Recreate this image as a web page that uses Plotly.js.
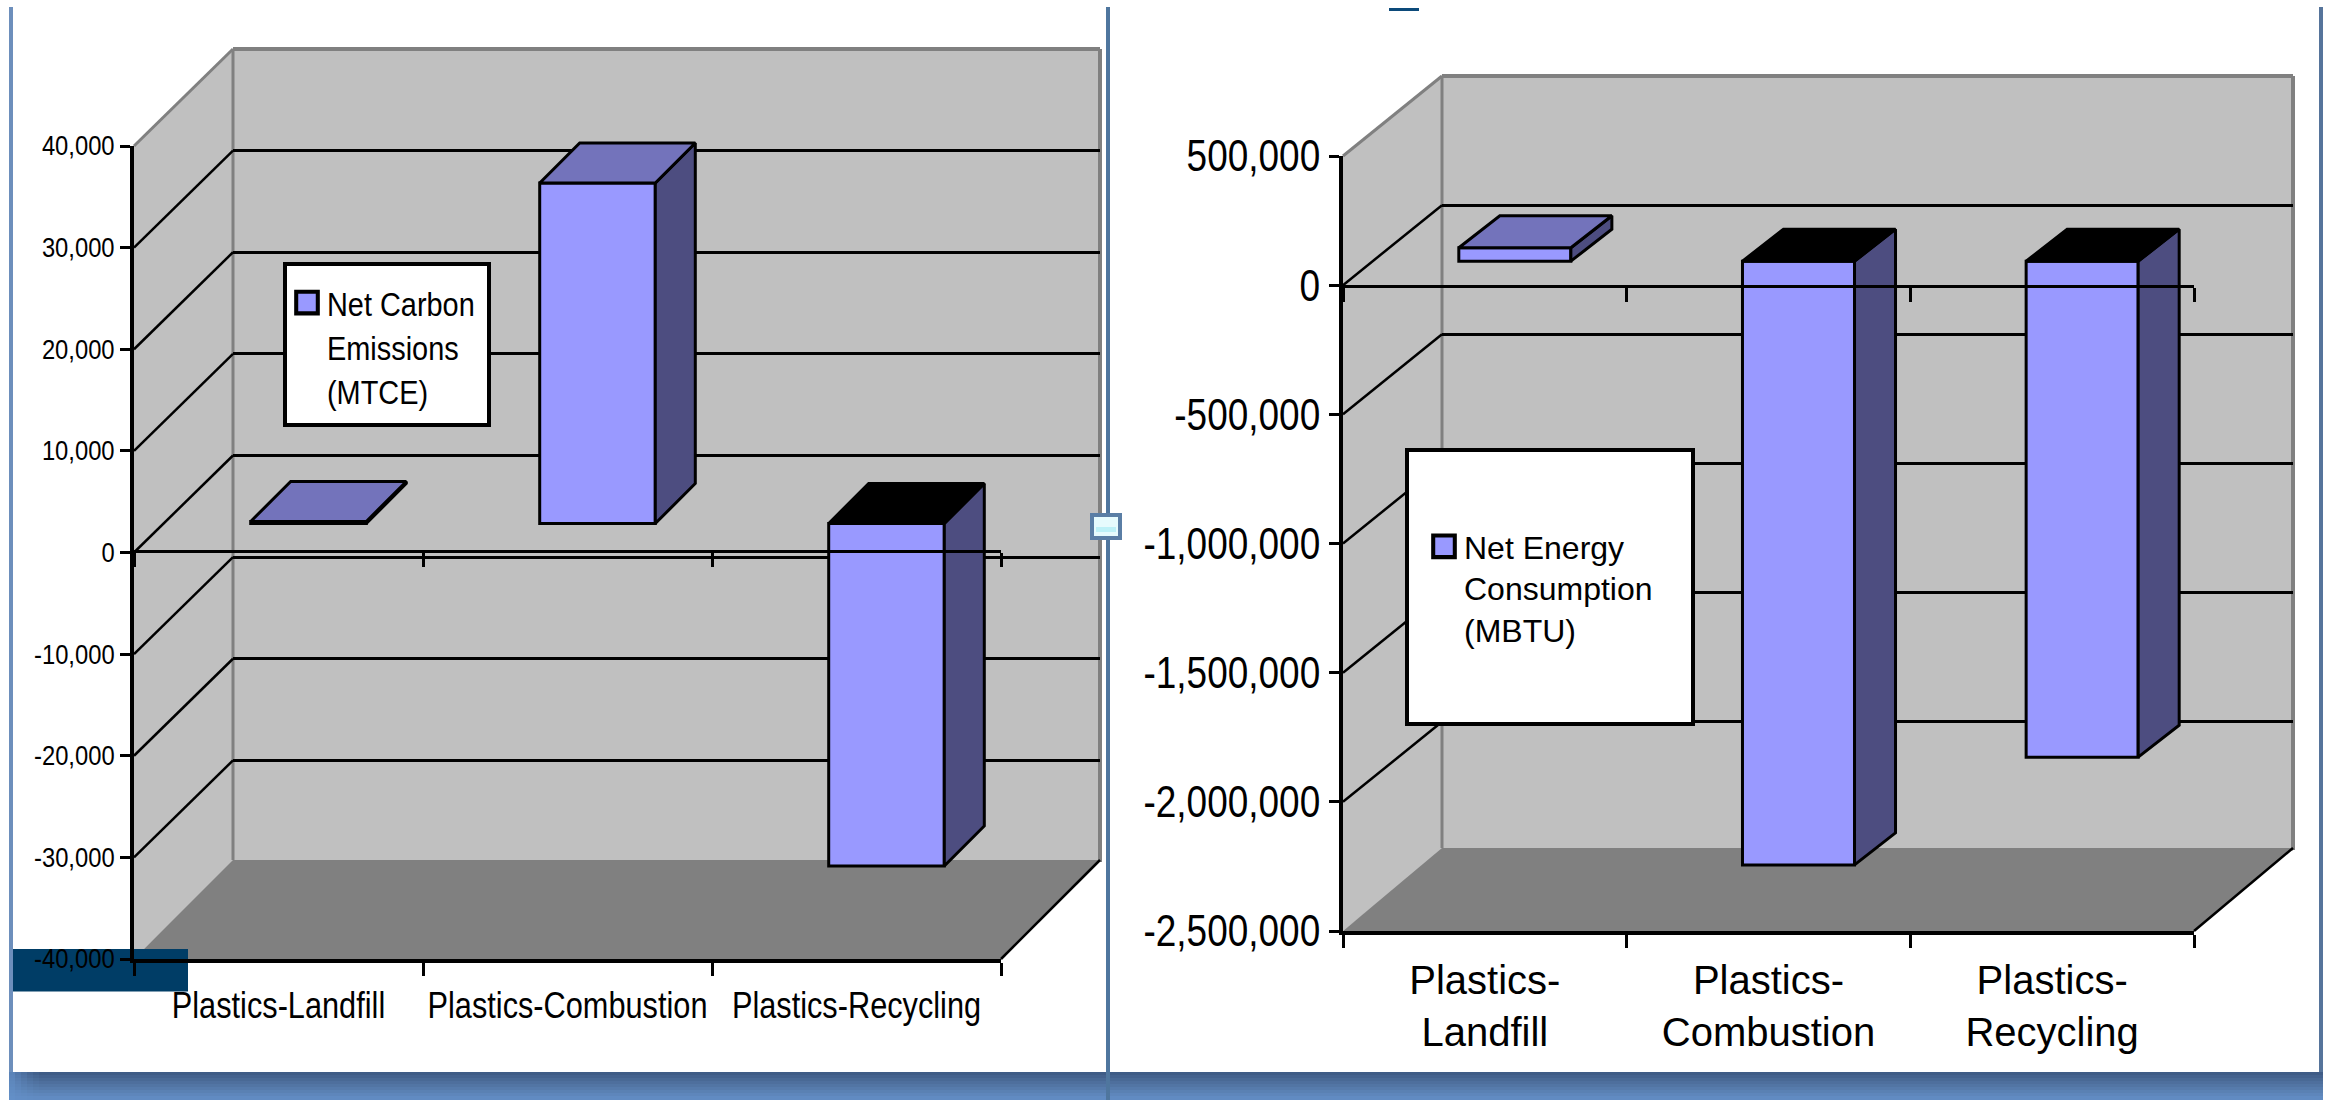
<!DOCTYPE html>
<html>
<head>
<meta charset="utf-8">
<script src="https://cdn.plot.ly/plotly-3.0.1.min.js"></script>
<style>html,body{margin:0;padding:0;background:#fff}</style>
</head>
<body>
<div id="chart" style="width:2333px;height:1100px"></div>
<script>
// Net carbon emissions and net energy consumption for three plastics waste pathways.
const categories = ["Plastics-Landfill", "Plastics-Combustion", "Plastics-Recycling"];
const categoriesWrapped = ["Plastics-<br>Landfill", "Plastics-<br>Combustion", "Plastics-<br>Recycling"];
const carbonValues = [200, 33500, -33700];
const energyValues = [52000, -2337000, -1920000];
const carbonTicks = [40000, 30000, 20000, 10000, 0, -10000, -20000, -30000, -40000];
const carbonTickText = ["40,000", "30,000", "20,000", "10,000", "0", "-10,000", "-20,000", "-30,000", "-40,000"];
const energyTicks = [500000, 0, -500000, -1000000, -1500000, -2000000, -2500000];
const energyTickText = ["500,000", "0", "-500,000", "-1,000,000", "-1,500,000", "-2,000,000", "-2,500,000"];

const W = 2333, H = 1100;
const px = x => x / W;
const py = y => 1 - y / H;

const FRONT = "#9999ff", SIDE = "#4d4d80", TOP = "#7373bb", WALL = "#c0c0c0", FLOOR = "#808080";
const REGULAR = "Liberation Sans, Arial, sans-serif";

const layout = {
  width: W, height: H, margin: {l: 0, r: 0, t: 0, b: 0, pad: 0},
  paper_bgcolor: "#ffffff", plot_bgcolor: "rgba(0,0,0,0)",
  bargap: 0, showlegend: true, shapes: [], hovermode: false
};
const traces = [];

function poly(points, fill, line, lw, lyr) {
  layout.shapes.push({
    type: "path", xref: "paper", yref: "paper", layer: lyr || "below",
    path: "M" + points.map(p => px(p[0]) + "," + py(p[1])).join("L") + "Z",
    fillcolor: fill, line: {color: line || "rgba(0,0,0,0)", width: lw || 0}
  });
}
function seg(x0, y0, x1, y1, color, lw, lyr) {
  layout.shapes.push({
    type: "line", xref: "paper", yref: "paper", layer: lyr || "below",
    x0: px(x0), y0: py(y0), x1: px(x1), y1: py(y1), line: {color, width: lw}
  });
}
function rect(x0, y0, x1, y1, fill, line, lw, lyr) {
  layout.shapes.push({
    type: "rect", xref: "paper", yref: "paper", layer: lyr || "below",
    x0: px(x0), y0: py(y0), x1: px(x1), y1: py(y1), fillcolor: fill,
    line: {color: line || "rgba(0,0,0,0)", width: lw || 0}
  });
}

// One oblique-projection column chart: a back plane carrying the grid, a mid plane
// carrying the columns, and a front plane carrying the labelled axes.
function addChart(c) {
  const n = c.axisBase;
  const id = k => (n + k === 0 ? "" : String(n + k + 1));
  const axisKey = (letter, k) => letter + "axis" + id(k);
  const ref = (letter, k) => letter + id(k);
  const [yMin, yMax] = c.range;
  const {x0, x1, yTop, yBot, dx, dy, barDx, barDy, floorY} = c;

  // walls and floor
  poly([[x0 + dx, yTop - dy], [x1 + dx, yTop - dy], [x1 + dx, yBot - dy], [x0 + dx, yBot - dy]], WALL);
  poly([[x0, yTop], [x0 + dx, yTop - dy], [x0 + dx, yBot - dy], [x0, yBot]], WALL);
  poly([[x0, yBot], [x0 + dx, floorY], [x1 + dx, floorY], [x1, yBot]], FLOOR);
  // wall edges
  seg(x0 + dx, yTop - dy, x1 + dx, yTop - dy, FLOOR, 4);
  seg(x0 + dx, yTop - dy, x0 + dx, floorY, FLOOR, 3);
  seg(x1 + dx, yTop - dy, x1 + dx, floorY + 2, FLOOR, 4);
  seg(x0, yTop, x0 + dx, yTop - dy, FLOOR, 3);
  seg(x1, yBot, x1 + dx, floorY, "#000000", 2.5);
  // grid lines running across the side wall
  const yOf = v => yBot - (v - yMin) / (yMax - yMin) * (yBot - yTop);
  c.ticks.slice(1, -1).forEach(v => seg(x0, yOf(v), x0 + dx, yOf(v) - dy, "#000000", 2.5));

  // back plane: horizontal grid
  const backTicks = c.ticks.slice(1, -1);
  layout[axisKey("x", 0)] = {
    domain: [px(x0 + dx), px(x1 + dx)], range: [0, 1], visible: false, anchor: ref("y", 0), fixedrange: true
  };
  layout[axisKey("y", 0)] = {
    domain: [py(yBot - dy), py(yTop - dy)], range: c.range, anchor: ref("x", 0), fixedrange: true,
    tickmode: "array", tickvals: backTicks, showticklabels: false, ticks: "",
    showgrid: true, gridcolor: "#000000", gridwidth: 3, zeroline: false, showline: false
  };
  traces.push({type: "scatter", x: [null], y: [null], xaxis: ref("x", 0), yaxis: ref("y", 0), showlegend: false, mode: "none"});

  // mid plane: columns with side and top faces
  const pos = [0, 1, 2];
  const xScale = 3 / (x1 - x0), yScale = (yMax - yMin) / (yBot - yTop);
  const ox = c.depth * xScale, oy = c.depth2 * yScale;
  const half = c.barWidth / 2;
  layout[axisKey("x", 1)] = {
    domain: [px(x0 + barDx), px(x1 + barDx)], range: [-0.5, 2.5], visible: false, anchor: ref("y", 1), fixedrange: true
  };
  layout[axisKey("y", 1)] = {
    domain: [py(yBot - barDy), py(yTop - barDy)], range: c.range, visible: false, anchor: ref("x", 1), fixedrange: true
  };
  c.values.forEach((v, i) => {
    const top = Math.max(v, 0), bottom = Math.min(v, 0), l = pos[i] - half, r = pos[i] + half;
    traces.push({
      type: "scatter", mode: "lines", fill: "toself", fillcolor: SIDE, showlegend: false,
      line: {color: "#000000", width: 3}, xaxis: ref("x", 1), yaxis: ref("y", 1),
      x: [r, r + ox, r + ox, r, r], y: [top, top + oy, bottom + oy, bottom, top]
    });
    traces.push({
      type: "scatter", mode: "lines", fill: "toself", showlegend: false,
      fillcolor: v < 0 ? "#000000" : TOP,
      line: {color: "#000000", width: 3}, xaxis: ref("x", 1), yaxis: ref("y", 1),
      x: [l, l + ox, r + ox, r, l], y: [top, top + oy, top + oy, top, top]
    });
  });
  traces.push({
    type: "bar", x: pos, y: c.values, width: c.barWidth, name: c.name, showlegend: false,
    marker: {color: FRONT, line: {color: "#000000", width: 3}},
    xaxis: ref("x", 1), yaxis: ref("y", 1)
  });

  // front plane: value axis, category axis along the floor, and a second one at zero
  layout[axisKey("x", 2)] = {
    domain: [px(x0), px(x1)], type: "category", categoryorder: "array", categoryarray: c.cats,
    range: [-0.5, 2.5], anchor: ref("y", 2), fixedrange: true, tickson: "boundaries",
    ticks: "outside", ticklen: 13, tickwidth: 3, tickcolor: "#000000",
    showline: true, linecolor: "#000000", linewidth: 4, showgrid: false, zeroline: false,
    tickangle: 0, ticklabelstandoff: c.xStandoff,
    tickfont: {family: REGULAR, size: c.xSize, color: "#000000"}
  };
  layout[axisKey("y", 2)] = {
    domain: [py(yBot), py(yTop)], range: c.range, anchor: ref("x", 2), fixedrange: true,
    tickmode: "array", tickvals: c.ticks, ticktext: c.tickText,
    ticks: "outside", ticklen: 10, tickwidth: 3, tickcolor: "#000000",
    showline: true, linecolor: "#000000", linewidth: 4, showgrid: false, zeroline: false,
    ticklabelstandoff: c.yStandoff,
    tickfont: {family: REGULAR, size: c.ySize, color: "#000000"}
  };
  layout[axisKey("x", 3)] = {
    domain: [px(x0), px(x1)], type: "category", categoryorder: "array", categoryarray: c.cats,
    range: [-0.5, 2.5], anchor: "free", position: py(c.zeroY), overlaying: ref("x", 2), fixedrange: true,
    tickson: "boundaries", ticks: "outside", ticklen: 14, tickwidth: 3, tickcolor: "#000000",
    showline: true, linecolor: "#000000", linewidth: 3, showgrid: false, zeroline: false, showticklabels: false
  };
  traces.push({type: "scatter", mode: "none", x: c.cats, y: [null, null, null], xaxis: ref("x", 2), yaxis: ref("y", 2), showlegend: false});
  traces.push({type: "scatter", mode: "none", x: c.cats, y: [null, null, null], xaxis: ref("x", 3), yaxis: ref("y", 2), showlegend: false});

  // legend panel and its entry
  const b = c.legendBox;
  rect(b[0], b[1], b[2], b[3], "#ffffff", "#000000", 4, "above");
  layout[c.legendKey] = {
    x: px(c.legendAt[0]), y: py(c.legendAt[1]), xanchor: "left", yanchor: "top", valign: "top",
    bgcolor: "rgba(0,0,0,0)", borderwidth: 0, itemsizing: "trace",
    font: {family: REGULAR, size: c.legendSize, color: "#000000"}
  };
  traces.push({
    type: "scatter", mode: "markers", x: [null], y: [null], name: c.legendName, legend: c.legendKey,
    showlegend: true, xaxis: ref("x", 1), yaxis: ref("y", 1),
    marker: {symbol: "square", size: 16, color: FRONT, line: {color: "#000000", width: 3}}
  });
}

addChart({
  axisBase: 0, name: "Net Carbon Emissions (MTCE)", legendName: "Net Carbon<br>Emissions<br>(MTCE)", legendKey: "legend",
  cats: categories, values: carbonValues, ticks: carbonTicks, tickText: carbonTickText,
  range: [-40000, 40000], x0: 134, x1: 1001, yTop: 146, yBot: 959, dx: 99, dy: 97, floorY: 860, zeroY: 551,
  barDx: 30, barDy: 29, depth: 40, depth2: 40, barWidth: 0.4,
  xSize: 37, ySize: 27, xStandoff: 11, yStandoff: 0,
  legendBox: [285, 264, 489, 425], legendAt: [287, 274], legendSize: 34
});
addChart({
  axisBase: 4, name: "Net Energy Consumption (MBTU)", legendName: "Net Energy<br>Consumption<br>(MBTU)", legendKey: "legend2",
  cats: categoriesWrapped, values: energyValues, ticks: energyTicks, tickText: energyTickText,
  range: [-2500000, 500000], x0: 1343, x1: 2194, yTop: 156, yBot: 931, dx: 99, dy: 80, floorY: 848, zeroY: 286,
  barDx: 30, barDy: 24, depth: 41, depth2: 32, barWidth: 0.395,
  xSize: 40, ySize: 44, xStandoff: 11, yStandoff: 0,
  legendBox: [1407, 450, 1693, 724], legendAt: [1424, 519], legendSize: 32
});

// window furniture around the two charts
const bandColors = ["#3f5c86", "#44628e", "#496995", "#4e6f9d", "#5275a4", "#567bac", "#5a81b3", "#5e86bb", "#618bc2"];
bandColors.forEach((col, i) => rect(9, 1072 + i * 3, 2323, 1072 + (i + 1) * 3 + 1, col));
[0.75, 0.55, 0.38, 0.22, 0.1].forEach((a, i) => rect(9 + i * 6, 1072, 9 + (i + 1) * 6, 1100, "rgba(100,144,200," + a + ")"));
rect(9, 7, 13, 1072, "#6d8fbc");
rect(2319, 7, 2323, 1072, "#56749b");
rect(1106, 7, 1110, 1100, "#4f769e");
rect(13, 949, 188, 991.5, "#003d66");
rect(1389, 8, 1419, 11, "#0c4a7a");
rect(1092, 515, 1120, 538, "#e6fbfd", "#5a7ea5", 4, "above");
rect(1096, 527, 1116, 532, "#bdf1f7", null, 0, "above");

// Squeeze tick label glyphs horizontally; the text itself stays as it is.
function condense(el, factor) {
  if (el.hasAttribute("textLength")) return;
  const len = el.getComputedTextLength();
  if (len > 0) {
    el.setAttribute("textLength", (len * factor).toFixed(1));
    el.setAttribute("lengthAdjust", "spacingAndGlyphs");
  }
}

// Rescale a legend label about its starting x position.
function stretchLegend(el, factor) {
  const x = parseFloat(el.getAttribute("x")) || 0;
  el.setAttribute("transform", "translate(" + (x * (1 - factor)) + ",0) scale(" + factor + ",1)");
}

function restyleText(gd) {
  gd.querySelectorAll("g.y3tick text").forEach(t => condense(t, 0.88));
  gd.querySelectorAll("g.y7tick text").forEach(t => condense(t, 0.84));
  gd.querySelectorAll('g[class^="x"][class$="tick"] text').forEach(t => {
    if (!t.querySelector("tspan")) condense(t, 0.83);
  });
  gd.querySelectorAll(".legendtext").forEach(t => {
    stretchLegend(t, t.textContent.includes("Carbon") ? 0.85 : 1.1);
  });
  gd.querySelectorAll(".legendpoints path").forEach(p => {
    const tr = p.getAttribute("transform") || "";
    if (!tr.includes("scale")) p.setAttribute("transform", tr + " scale(1.35)");
  });
}

Plotly.newPlot("chart", traces, layout, {displayModeBar: false, staticPlot: true}).then(gd => {
  restyleText(gd);
  setTimeout(() => restyleText(gd), 50);
});
</script>
</body>
</html>
